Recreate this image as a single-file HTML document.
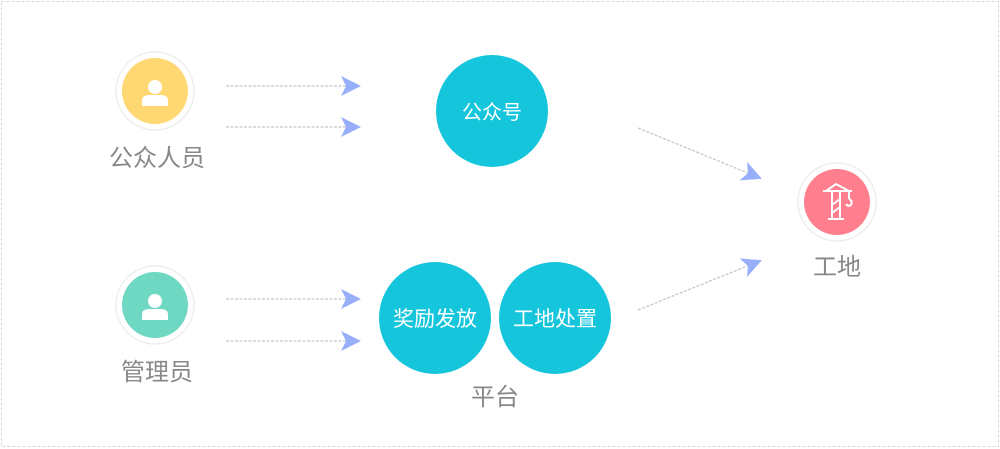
<!DOCTYPE html>
<html><head><meta charset="utf-8"><style>
html,body{margin:0;padding:0;background:#fff;}
svg{display:block;}
text{font-family:"Liberation Sans","Noto Sans CJK SC",sans-serif;}
</style></head><body>
<svg width="1000" height="449" viewBox="0 0 1000 449" xmlns="http://www.w3.org/2000/svg">
<rect x="1.5" y="1.5" width="997" height="445" fill="#fff" stroke="#d8d8d8" stroke-dasharray="3,2"/>
<defs>
<marker id="a" viewBox="0 0 20 20" refX="18" refY="10" markerWidth="20" markerHeight="20" markerUnits="userSpaceOnUse" orient="auto">
<path d="M0,0 L20,10 L0,20 L5,10 Z" fill="#97aefa"/></marker>
</defs>
<g stroke="#c8c8c8" stroke-width="1.3" stroke-dasharray="3,1.5" fill="none" marker-end="url(#a)">
<line x1="226" y1="86" x2="359" y2="86"/>
<line x1="226" y1="127" x2="359" y2="127"/>
<line x1="226" y1="299" x2="359" y2="299"/>
<line x1="226" y1="341" x2="359" y2="341"/>
<line x1="638" y1="128" x2="760" y2="178"/>
<line x1="638" y1="310" x2="760" y2="261"/>
</g>
<circle cx="155" cy="91" r="39" fill="#fff" stroke="#eeeeee" stroke-width="1.5"/>
<circle cx="155" cy="91" r="33" fill="#ffd873"/>
<g fill="#fff"><circle cx="155" cy="87" r="7"/><path d="M142,106 L142,100 Q142,96 148,95 L162,95 Q168,96 168,100 L168,106 Z"/></g>
<text x="157" y="166" font-size="24" fill="#888" text-anchor="middle">公众人员</text>
<circle cx="155" cy="305" r="39" fill="#fff" stroke="#eeeeee" stroke-width="1.5"/>
<circle cx="155" cy="305" r="33" fill="#6fd8c2"/>
<g fill="#fff"><circle cx="155" cy="301" r="7"/><path d="M142,320 L142,314 Q142,310 148,309 L162,309 Q168,310 168,314 L168,320 Z"/></g>
<text x="157" y="380" font-size="24" fill="#888" text-anchor="middle">管理员</text>
<circle cx="492" cy="111" r="56" fill="#15c5dc"/>
<text x="492" y="119" font-size="20" fill="#fff" text-anchor="middle">公众号</text>
<circle cx="435" cy="318" r="56" fill="#15c5dc"/>
<text x="435" y="326" font-size="21" fill="#fff" text-anchor="middle">奖励发放</text>
<circle cx="555" cy="318" r="56" fill="#15c5dc"/>
<text x="555" y="326" font-size="21" fill="#fff" text-anchor="middle">工地处置</text>
<text x="495" y="405" font-size="24" fill="#888" text-anchor="middle">平台</text>
<circle cx="837" cy="202" r="39" fill="#fff" stroke="#eeeeee" stroke-width="1.5"/>
<circle cx="837" cy="202" r="33" fill="#ff7f8f"/>
<g stroke="#fff" stroke-width="2" fill="none">
<line x1="823" y1="191" x2="852" y2="191"/>
<path d="M826,191 L836,184 L849,191"/>
<line x1="832" y1="191" x2="832" y2="219"/>
<line x1="840" y1="191" x2="840" y2="219"/>
<line x1="828" y1="219" x2="844" y2="219"/>
<line x1="832" y1="205" x2="840" y2="199"/>
<line x1="832" y1="213" x2="840" y2="207"/>
<line x1="849" y1="191" x2="849" y2="199"/>
<path d="M849,199 Q853,201 851,205 Q848,207 846,204"/>
</g>
<text x="837" y="275" font-size="24" fill="#888" text-anchor="middle">工地</text>
</svg>
</body></html>
